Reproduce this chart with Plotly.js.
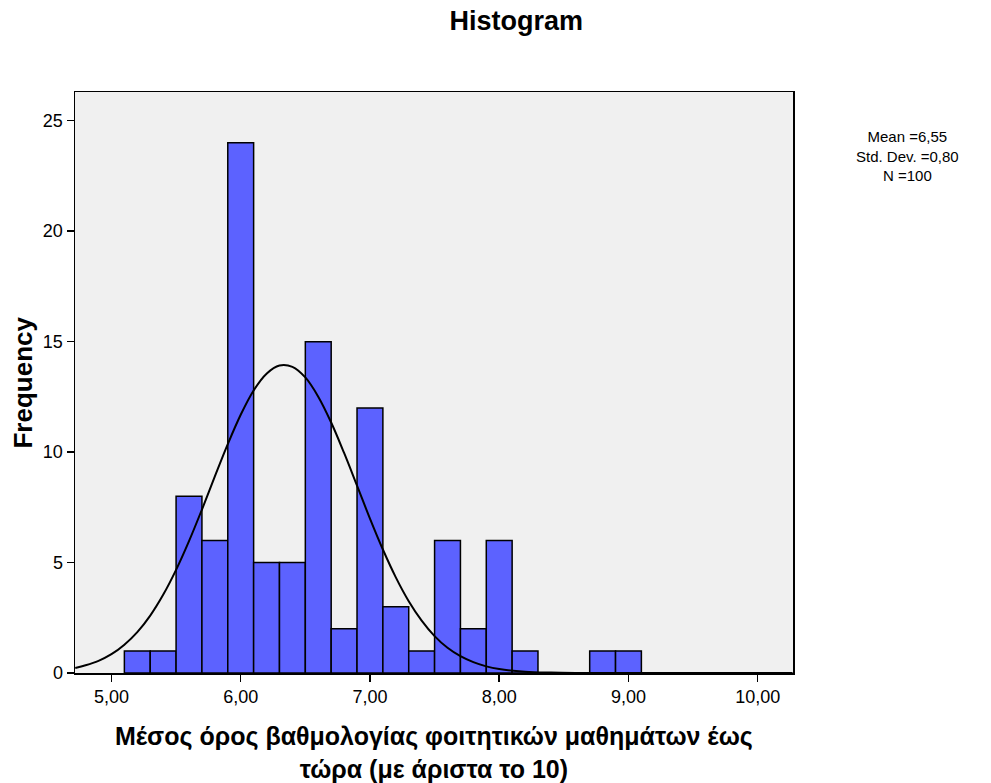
<!DOCTYPE html>
<html>
<head>
<meta charset="utf-8">
<script src="https://cdn.plot.ly/plotly-3.0.1.min.js"></script>
<style>html,body{margin:0;padding:0;background:#fff;}#chart{width:991px;height:783px;}</style>
</head>
<body>
<div id="chart"></div>
<script>
// Histogram bins (bin centres, width 0.2) and frequencies
var binCenters = [5.2, 5.4, 5.6, 5.8, 6.0, 6.2, 6.4, 6.6, 6.8, 7.0, 7.2, 7.4, 7.6, 7.8, 8.0, 8.2, 8.4, 8.6, 8.8, 9.0];
var frequencies = [1, 1, 8, 6, 24, 5, 5, 15, 2, 12, 3, 1, 6, 2, 6, 1, 0, 0, 1, 1];
var binWidth = 0.2;

// Normal curve
var curveX = [4.72, 4.8, 4.9, 5.0, 5.1, 5.2, 5.3, 5.4, 5.5, 5.6, 5.7, 5.8, 5.9, 6.0, 6.1, 6.2, 6.3, 6.4, 6.5, 6.6, 6.7, 6.8, 6.9, 7.0, 7.1, 7.2, 7.3, 7.4, 7.5, 7.6, 7.7, 7.8, 7.9, 8.0, 8.2, 8.4, 8.6, 9.0, 10.27];
var curveY = [0.23, 0.35, 0.55, 0.85, 1.28, 1.85, 2.60, 3.54, 4.67, 5.97, 7.40, 8.90, 10.36, 11.69, 12.79, 13.55, 13.92, 13.86, 13.38, 12.51, 11.34, 9.96, 8.48, 6.99, 5.59, 4.33, 3.25, 2.37, 1.67, 1.14, 0.76, 0.49, 0.30, 0.18, 0.06, 0.02, 0.005, 0, 0];

var xTickVals = [5, 6, 7, 8, 9, 10];
var xTickText = ['5,00', '6,00', '7,00', '8,00', '9,00', '10,00'];
var yTickVals = [0, 5, 10, 15, 20, 25];

var statsLines = ['Mean =6,55', 'Std. Dev. =0,80', 'N =100'];
var chartTitle = 'Histogram';
var xTitleLines = ['Μέσος όρος βαθμολογίας φοιτητικών μαθημάτων έως', 'τώρα (με άριστα το 10)'];
var yTitle = 'Frequency';

var font = 'Liberation Sans, Arial, sans-serif';

var traces = [
  {
    type: 'bar',
    x: binCenters,
    y: frequencies,
    width: binWidth,
    marker: {color: '#5c62ff', line: {color: '#000000', width: 1.5}},
    hoverinfo: 'x+y'
  },
  {
    type: 'scatter',
    mode: 'lines',
    x: curveX,
    y: curveY,
    line: {color: '#000000', width: 2, shape: 'spline'},
    hoverinfo: 'skip'
  }
];

var layout = {
  width: 991,
  height: 783,
  showlegend: false,
  paper_bgcolor: '#ffffff',
  plot_bgcolor: '#f0f0f0',
  margin: {l: 75, r: 198, t: 92, b: 110, pad: 0},
  font: {family: font, color: '#000000'},
  title: {
    text: '<b>' + chartTitle + '</b>',
    font: {family: font, size: 27, color: '#000000'},
    xref: 'container', x: 0.521, xanchor: 'center',
    yref: 'container', y: 0.974, yanchor: 'middle'
  },
  bargap: 0,
  xaxis: {
    range: [4.718, 10.273],
    tickmode: 'array',
    tickvals: xTickVals,
    ticktext: xTickText,
    ticks: 'outside', ticklen: 7, tickwidth: 1.5, tickcolor: '#000000',
    tickfont: {family: font, size: 18, color: '#000000'},
    showgrid: false, zeroline: false,
    showline: true, linecolor: '#000000', linewidth: 1.5, mirror: true
  },
  yaxis: {
    range: [0, 26.3],
    tickmode: 'array',
    tickvals: yTickVals,
    ticks: 'outside', ticklen: 7, tickwidth: 1.5, tickcolor: '#000000',
    tickfont: {family: font, size: 18, color: '#000000'},
    showgrid: false, zeroline: false,
    showline: true, linecolor: '#000000', linewidth: 1.5, mirror: true
  },
  annotations: [
    {
      text: '<b>' + xTitleLines.join('<br>') + '</b>',
      xref: 'paper', yref: 'paper', x: 0.5, y: -0.1365,
      xanchor: 'center', yanchor: 'middle', showarrow: false,
      font: {family: font, size: 25, color: '#000000'}
    },
    {
      text: '<b>' + yTitle + '</b>',
      xref: 'paper', yref: 'paper', x: -0.0738, y: 0.5,
      xanchor: 'center', yanchor: 'middle', showarrow: false, textangle: -90,
      font: {family: font, size: 26, color: '#000000'}
    },
    {
      text: statsLines.join('<br>'),
      xref: 'paper', yref: 'paper', x: 1.159, y: 0.889,
      xanchor: 'center', yanchor: 'middle', showarrow: false,
      font: {family: font, size: 15, color: '#000000'}
    }
  ]
};

Plotly.newPlot('chart', traces, layout, {displayModeBar: false, staticPlot: true});
</script>
</body>
</html>
